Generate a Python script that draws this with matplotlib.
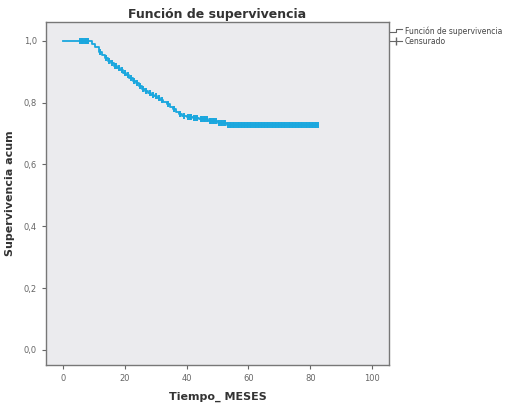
import matplotlib
matplotlib.use("Agg")
import matplotlib.pyplot as plt
from matplotlib.lines import Line2D
from matplotlib.legend_handler import HandlerBase
import numpy as np

# Kaplan-Meier step points (time, survival after event)
event_times = [9.5, 10.5, 11.5, 12.5, 13.5, 14.5, 15.5, 16.5, 17.5, 18.5, 19.5,
               20.5, 21.5, 22.5, 23.5, 24.5, 25.5, 26.5, 27.5, 28.5, 29.5, 30.5,
               31.5, 32.5, 33.5, 34.5, 35.5, 36.5, 37.5, 38.5, 40.0, 42.0, 44.0,
               47.0, 50.0, 53.0]
event_surv = [0.990, 0.980, 0.965, 0.955, 0.945, 0.935, 0.928, 0.920, 0.912, 0.905,
              0.897, 0.889, 0.880, 0.871, 0.862, 0.853, 0.845, 0.838, 0.832, 0.826,
              0.820, 0.815, 0.810, 0.803, 0.795, 0.786, 0.778, 0.770, 0.763, 0.758,
              0.753, 0.750, 0.746, 0.740, 0.734, 0.727]
end_time = 82.5

censored_times = [5.5, 6.0, 6.3, 6.6, 7.0, 7.3, 7.7, 8.2, 12.0, 14.0, 15.0, 16.0,
                  16.8, 17.2, 18.0, 19.0, 20.0, 21.0, 22.0, 23.0, 24.0, 25.0, 26.0,
                  27.0, 28.0, 29.0, 30.0, 31.0, 32.0, 34.0, 36.0, 38.0, 39.0, 40.5,
                  41.0, 41.5, 42.5, 43.0, 43.5, 44.5, 45.0, 45.5, 46.0, 46.5, 47.5,
                  48.0, 48.5, 49.0, 49.5, 50.5, 51.0, 51.5, 52.0, 52.5, 53.5, 54.0,
                  54.5, 55.0, 55.5, 56.0, 56.5, 57.0, 57.5, 58.0, 58.5, 59.0, 59.5,
                  60.0, 60.5, 61.0, 61.5, 62.0, 62.5, 63.0, 63.5, 64.0, 64.5, 65.0,
                  65.5, 66.0, 66.5, 67.0, 67.5, 68.0, 68.5, 69.0, 69.5, 70.0, 70.5,
                  71.0, 71.5, 72.0, 72.5, 73.0, 73.5, 74.0, 74.5, 75.0, 75.5, 76.0,
                  76.5, 77.0, 77.5, 78.0, 78.5, 79.0, 79.5, 80.0, 80.5, 81.0, 81.5,
                  82.0, 82.5]

xticks = [0, 20, 40, 60, 80, 100]
yticks = [0.0, 0.2, 0.4, 0.6, 0.8, 1.0]
ytick_labels = ["0,0", "0,2", "0,4", "0,6", "0,8", "1,0"]

blue = "#1aa7de"

fig = plt.figure(figsize=(5.11, 4.05), dpi=100)
ax = fig.add_axes([46/511, 1 - 365/405, (389-46)/511, (365-22)/405])
ax.set_facecolor("#ebebee")

step_t = [0.0] + event_times + [end_time]
step_s = [1.0] + event_surv + [event_surv[-1]]
ax.step(step_t, step_s, where="post", color=blue, lw=1.3)

def surv_at(t):
    s = 1.0
    for et, es in zip(event_times, event_surv):
        if et <= t:
            s = es
    return s

cs = [surv_at(t) for t in censored_times]
ax.plot(censored_times, cs, linestyle="none", marker="|", color=blue,
        markersize=5, markeredgewidth=1.4)

ax.set_xlim(-5.5, 105.5)
ax.set_ylim(-0.049, 1.061)
ax.set_xticks(xticks)
ax.set_xticklabels([str(x) for x in xticks])
ax.set_yticks(yticks)
ax.set_yticklabels(ytick_labels)
ax.tick_params(labelsize=6, colors="#666666", length=3, width=0.8)
for sp in ax.spines.values():
    sp.set_color("#777777")
    sp.set_linewidth(1.0)

ax.set_title("Función de supervivencia", fontsize=9, fontweight="bold", pad=3, color="#333333")
ax.set_xlabel("Tiempo_ MESES", fontsize=8, fontweight="bold", color="#333333", labelpad=6)
ax.set_ylabel("Supervivencia acum", fontsize=8, fontweight="bold", color="#333333", labelpad=6)


class StepHandler(HandlerBase):
    def create_artists(self, legend, orig_handle, xdescent, ydescent,
                       width, height, fontsize, trans):
        xs = [0, width * 0.5, width * 0.5, width]
        ys = [height * 0.25, height * 0.25, height * 0.85, height * 0.85]
        ln = Line2D(xs, ys, color="#666666", lw=0.8, transform=trans)
        return [ln]


h1 = Line2D([0], [0], color="#666666", lw=0.8)
h2 = Line2D([0], [0], color="#666666", lw=0.8, marker="|", markersize=6)
leg = fig.legend([h1, h2], ["Función de supervivencia", "Censurado"],
                 loc="upper left", bbox_to_anchor=(387/511, 1 - 23/405),
                 fontsize=5.5, frameon=False, handlelength=1.6, handletextpad=0.3,
                 labelspacing=0.2, borderaxespad=0,
                 handler_map={h1: StepHandler()})
for t in leg.get_texts():
    t.set_color("#444444")

fig.savefig("out.png", dpi=100)
